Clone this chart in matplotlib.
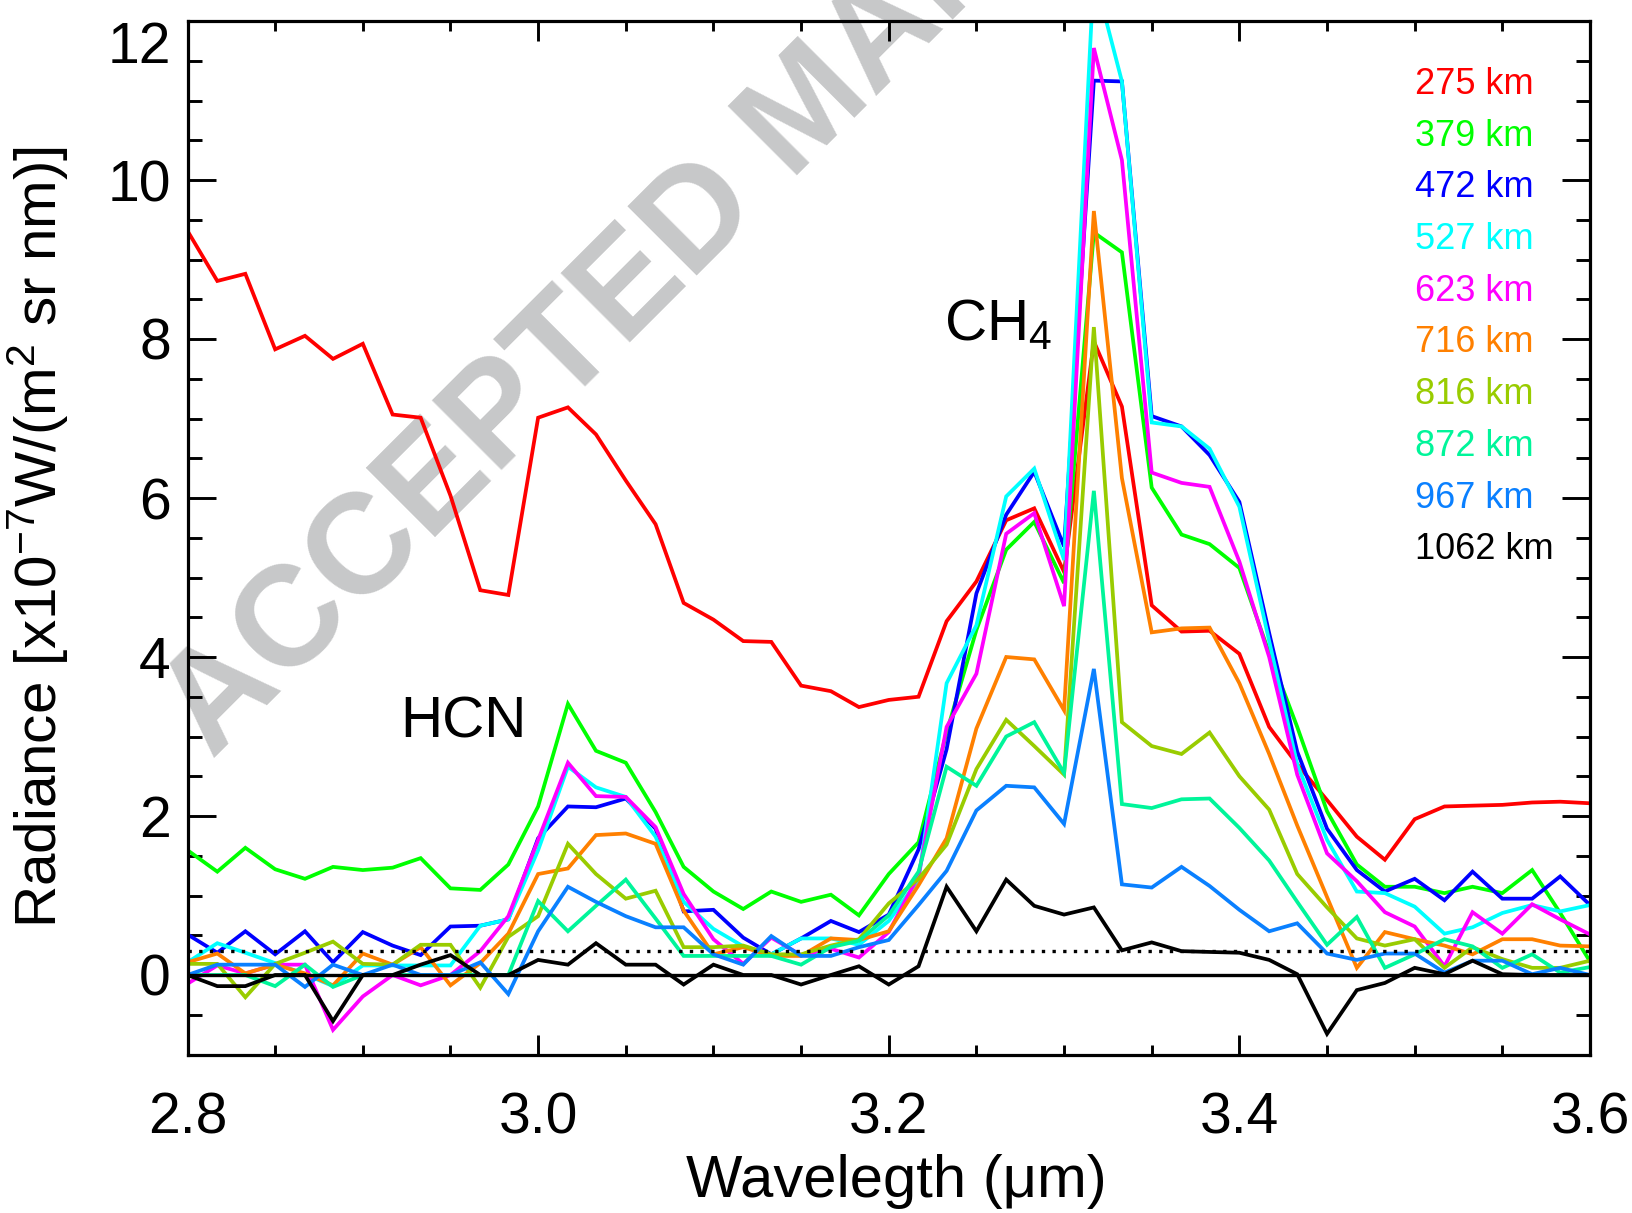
import matplotlib
matplotlib.use("Agg")
import matplotlib.pyplot as plt
from matplotlib.ticker import MultipleLocator

plt.rcParams['font.family'] = ['Liberation Sans', 'DejaVu Sans']
plt.rcParams['mathtext.fontset'] = 'custom'
plt.rcParams['mathtext.rm'] = 'Liberation Sans'
plt.rcParams['mathtext.it'] = 'Liberation Sans'
plt.rcParams['mathtext.bf'] = 'Liberation Sans:bold'

# ---------------- data ----------------
wavelength = [2.800, 2.817, 2.833, 2.850, 2.867, 2.883, 2.900, 2.917, 2.933, 2.950,
              2.967, 2.983, 3.000, 3.017, 3.033, 3.050, 3.067, 3.083, 3.100, 3.117,
              3.133, 3.150, 3.167, 3.183, 3.200, 3.217, 3.233, 3.250, 3.267, 3.283,
              3.300, 3.317, 3.333, 3.350, 3.367, 3.383, 3.400, 3.417, 3.433, 3.450,
              3.467, 3.483, 3.500, 3.517, 3.533, 3.550, 3.567, 3.583, 3.600]

r275 = [9.36, 8.73, 8.82, 7.87, 8.04, 7.75, 7.94, 7.05, 7.01, 6.03, 4.84, 4.78,
        7.01, 7.14, 6.80, 6.22, 5.67, 4.68, 4.47, 4.20, 4.19, 3.64, 3.57, 3.37,
        3.46, 3.50, 4.45, 4.95, 5.72, 5.87, 5.07, 7.97, 7.15, 4.65, 4.32, 4.33, 4.04,
        3.12, 2.65, 2.20, 1.74, 1.45, 1.96, 2.12, 2.13, 2.14, 2.17, 2.18, 2.16]
r379 = [1.57, 1.30, 1.60, 1.33, 1.21, 1.36, 1.32, 1.35, 1.47, 1.09, 1.07, 1.39,
        2.12, 3.41, 2.82, 2.67, 2.05, 1.36, 1.05, 0.83, 1.05, 0.92, 1.01, 0.75,
        1.27, 1.67, 3.05, 4.34, 5.35, 5.70, 4.93, 9.34, 9.09, 6.13, 5.54, 5.42, 5.12,
        4.05, 3.12, 2.06, 1.39, 1.11, 1.11, 1.03, 1.11, 1.03, 1.32, 0.78, 0.17]
r472 = [0.51, 0.28, 0.55, 0.26, 0.55, 0.16, 0.54, 0.37, 0.25, 0.61, 0.62, 0.70,
        1.72, 2.12, 2.11, 2.22, 1.84, 0.80, 0.82, 0.47, 0.26, 0.46, 0.68, 0.54,
        0.76, 1.58, 2.84, 4.80, 5.79, 6.33, 5.39, 11.25, 11.24, 7.03, 6.90, 6.54, 5.95,
        4.30, 2.81, 1.84, 1.32, 1.05, 1.21, 0.94, 1.30, 0.96, 0.96, 1.24, 0.88]
r527 = [0.16, 0.40, 0.28, 0.15, 0.01, -0.14, 0.12, 0.12, 0.12, 0.12, 0.62, 0.70,
        1.57, 2.62, 2.36, 2.24, 1.74, 0.92, 0.58, 0.36, 0.26, 0.46, 0.46, 0.38,
        0.68, 1.20, 3.67, 4.40, 6.02, 6.37, 5.22, 12.60, 11.24, 6.95, 6.90, 6.62, 5.89,
        4.20, 2.65, 1.70, 1.05, 1.03, 0.86, 0.52, 0.60, 0.78, 0.88, 0.80, 0.88]
r623 = [-0.11, 0.12, 0.02, 0.13, 0.13, -0.69, -0.27, 0.00, -0.13, 0.00, 0.30, 0.74,
        1.70, 2.67, 2.25, 2.24, 1.86, 1.02, 0.45, 0.14, 0.47, 0.25, 0.33, 0.22,
        0.54, 1.25, 3.12, 3.79, 5.55, 5.81, 4.64, 11.66, 10.25, 6.32, 6.19, 6.14, 5.20,
        4.00, 2.52, 1.53, 1.18, 0.79, 0.61, 0.11, 0.79, 0.52, 0.89, 0.70, 0.51]
r716 = [0.16, 0.27, 0.02, 0.13, 0.02, -0.13, 0.27, 0.13, 0.35, -0.13, 0.15, 0.52,
        1.27, 1.34, 1.76, 1.78, 1.65, 0.81, 0.26, 0.35, 0.24, 0.24, 0.46, 0.44,
        0.55, 1.13, 1.72, 3.10, 4.00, 3.97, 3.33, 9.61, 6.25, 4.31, 4.36, 4.37, 3.67,
        2.78, 1.88, 0.98, 0.09, 0.54, 0.45, 0.37, 0.26, 0.45, 0.45, 0.37, 0.36]
r816 = [0.14, 0.14, -0.28, 0.14, 0.28, 0.42, 0.14, 0.13, 0.38, 0.38, -0.16, 0.48,
        0.74, 1.65, 1.27, 0.96, 1.06, 0.35, 0.35, 0.37, 0.26, 0.26, 0.37, 0.45,
        0.90, 1.21, 1.64, 2.59, 3.21, 2.88, 2.52, 8.15, 3.18, 2.88, 2.78, 3.05, 2.50,
        2.08, 1.27, 0.85, 0.46, 0.37, 0.45, 0.09, 0.35, 0.20, 0.09, 0.09, 0.18]
r872 = [0.00, 0.00, 0.00, -0.14, 0.13, -0.15, 0.00, 0.00, 0.00, 0.00, 0.00, 0.00,
        0.93, 0.55, 0.87, 1.20, 0.71, 0.24, 0.24, 0.24, 0.24, 0.13, 0.35, 0.43,
        0.75, 1.30, 2.62, 2.38, 3.00, 3.18, 2.54, 6.09, 2.15, 2.10, 2.21, 2.22, 1.85,
        1.44, 0.92, 0.38, 0.73, 0.09, 0.26, 0.45, 0.36, 0.09, 0.26, 0.03, 0.10]
r967 = [0.00, 0.13, 0.13, 0.13, -0.15, 0.13, 0.00, 0.13, 0.00, 0.00, 0.16, -0.24,
        0.55, 1.11, 0.92, 0.74, 0.60, 0.60, 0.26, 0.13, 0.49, 0.24, 0.24, 0.35,
        0.44, 0.88, 1.31, 2.07, 2.38, 2.36, 1.90, 3.85, 1.14, 1.10, 1.36, 1.12, 0.82,
        0.55, 0.65, 0.27, 0.19, 0.27, 0.27, 0.03, 0.18, 0.18, 0.01, 0.09, 0.00]
r1062 = [0.00, -0.14, -0.14, 0.00, 0.00, -0.58, 0.00, 0.00, 0.13, 0.25, 0.00, 0.00,
         0.19, 0.13, 0.40, 0.13, 0.13, -0.12, 0.13, 0.00, 0.00, -0.12, 0.00, 0.11,
         -0.12, 0.11, 1.11, 0.55, 1.20, 0.87, 0.76, 0.85, 0.31, 0.41, 0.30, 0.29, 0.28,
         0.19, 0.01, -0.74, -0.19, -0.10, 0.09, 0.01, 0.18, 0.01, 0.00, 0.00, 0.00]

altitudes = ["275 km", "379 km", "472 km", "527 km", "623 km",
             "716 km", "816 km", "872 km", "967 km", "1062 km"]
series = [r275, r379, r472, r527, r623, r716, r816, r872, r967, r1062]
colors = ["#FF0000", "#00FF00", "#0000FF", "#00FFFF", "#FF00FF",
          "#FF8000", "#99CC00", "#00F59A", "#0A80FF", "#000000"]

noise_level = 0.3
xticks = [2.8, 3.0, 3.2, 3.4, 3.6]
yticks = [0, 2, 4, 6, 8, 10, 12]

# ---------------- figure ----------------
W, H = 1632, 1213
fig = plt.figure(figsize=(W / 100, H / 100), dpi=100)
L, R, T, B = 187.5, 1590.0, 21.0, 1054.5
ax = fig.add_axes([L / W, 1 - B / H, (R - L) / W, (B - T) / H])

# watermark
ax.text(212 / W, 1 - 760 / H, "ACCEPTED MANUSCRIPT", transform=fig.transFigure,
        rotation=45, rotation_mode='anchor', ha='left', va='baseline',
        fontsize=102, fontweight='bold', color='#C7C8C9', zorder=0.5,
        clip_on=False)

for vals, c in zip(series, colors):
    ax.plot(wavelength, vals, color=c, lw=2.7, zorder=2, solid_joinstyle='miter')

ax.axhline(0, color='black', lw=2.4, zorder=3)
ax.axhline(noise_level, color='black', lw=2.4, ls=(0, (1, 2.2)), zorder=3)

ax.set_xlim(2.8, 3.6)
ax.set_ylim(-1, 12)
ax.set_xticks(xticks)
ax.set_xticklabels([f"{v:.1f}" for v in xticks])
ax.set_yticks(yticks)
ax.set_yticklabels([str(v) for v in yticks])
ax.xaxis.set_minor_locator(MultipleLocator(0.05))
ax.yaxis.set_minor_locator(MultipleLocator(0.5))

for s in ax.spines.values():
    s.set_linewidth(2.3)
ax.tick_params(axis='both', which='both', direction='in', top=True, right=True,
               width=2.1, labelsize=41)
ax.tick_params(axis='x', which='major', length=14.5, pad=27)
ax.tick_params(axis='x', which='minor', length=7.2)
ax.tick_params(axis='y', which='major', length=20, pad=12)
ax.tick_params(axis='y', which='minor', length=10)
lbls = ax.get_yticklabels()
lbls[-1].set_verticalalignment('top')

# axis labels
fig.text(57 / W, 1 - 537 / H, r"Radiance [x10$^{-7}$W/(m$^{2}$ sr nm)]",
         rotation=90, rotation_mode='anchor', ha='center', va='baseline',
         fontsize=42)
fig.text(896 / W, 1 - 1197 / H, "Wavelegth (\u03bcm)", ha='center',
         va='baseline', fontsize=43)

# annotations
ax.text(2.9216, 2.99, "HCN", fontsize=42, ha='left', va='baseline')
ax.text(3.2314, 7.99, r"CH$_4$", fontsize=42, ha='left', va='baseline')

# legend as coloured text
for k, (lab, c) in enumerate(zip(altitudes, colors)):
    yb = 94 + 51.7 * k
    ax.text(1415 / W, 1 - yb / H, lab, transform=fig.transFigure, color=c,
            fontsize=26, ha='left', va='baseline')

fig.savefig("out.png", dpi=100)
